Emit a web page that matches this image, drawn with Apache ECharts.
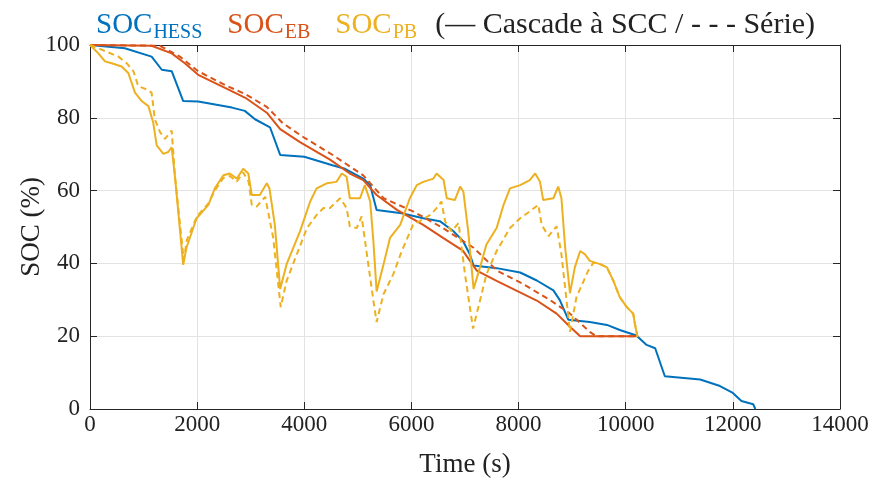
<!DOCTYPE html>
<html>
<head>
<meta charset="utf-8">
<script src="https://cdn.jsdelivr.net/npm/echarts@6/dist/echarts.min.js"></script>
<style>
  html, body { margin: 0; padding: 0; background: #fff; }
  #chart { width: 882px; height: 483px; }
</style>
</head>
<body>
<div id="chart"></div>
<script>
// axis ticks
const xTicks = [0, 2000, 4000, 6000, 8000, 10000, 12000, 14000]
const yTicks = [0, 20, 40, 60, 80, 100]

// SOC_HESS, cascade (solid)
const hessCascade = [[0, 100], [650, 99.1], [1150, 96.8], [1340, 93.2], [1525, 92.8], [1740, 84.6], [2020, 84.5],
  [2650, 82.8], [2890, 81.9], [3080, 79.6], [3360, 77.4], [3550, 69.8], [4000, 69.3], [4540, 66.9], [4760, 66.0],
  [5100, 63.3], [5230, 61.5], [5350, 54.7], [5820, 53.8], [6220, 52.4], [6530, 51.6], [6780, 48.9], [6960, 46.2],
  [7090, 42.5], [7160, 39.4], [7590, 38.7], [8030, 37.5], [8340, 35.3], [8650, 32.6], [8770, 29.9], [8930, 24.5],
  [9330, 23.9], [9650, 23.1], [9890, 21.7], [10200, 20.2], [10390, 17.6], [10550, 16.7], [10730, 9.0], [11390, 8.1],
  [11760, 6.3], [12000, 4.4], [12160, 2.2], [12380, 1.3], [12420, 0]]

// SOC_EB, cascade (solid) and series (dashed)
const ebCascade = [[0, 100], [1150, 99.8], [1525, 97.7], [1770, 95.0], [2020, 91.8], [2520, 88.2], [2900, 85.5],
  [3300, 81.4], [3550, 76.9], [3920, 73.3], [4480, 68.5], [4850, 64.7], [5100, 62.9], [5350, 58.8], [5730, 54.7],
  [6220, 50.6], [6590, 47.0], [6960, 43.5], [7220, 38.0], [7590, 35.2], [7960, 32.5], [8340, 29.8], [8710, 26.2],
  [8960, 22.6], [9150, 20.0], [10200, 20.0]]
const ebSerie = [[0, 100], [1300, 99.8], [1680, 96.8], [2020, 92.8], [2520, 89.0], [2900, 86.5], [3300, 83.0],
  [3600, 78.5], [3950, 75.0], [4540, 69.7], [5100, 64.2], [5480, 57.9], [6030, 54.3], [6590, 49.7], [7160, 44.3],
  [7600, 38.0], [8090, 34.3], [8590, 29.9], [8960, 26.2], [9330, 21.2], [9450, 20.0], [10200, 20.0]]

// SOC_PB, cascade (solid) and series (dashed)
const pbCascade = [[0, 100], [155, 97.7], [280, 95.5], [405, 95.0], [590, 94.1], [715, 92.3], [840, 86.9],
  [965, 84.6], [1090, 83.2], [1180, 78.7], [1245, 72.4], [1370, 70.1], [1460, 70.6], [1525, 71.9], [1590, 63.3],
  [1740, 39.6], [1800, 44.3], [1990, 52.4], [2210, 56.1], [2330, 60.6], [2490, 64.2], [2610, 64.7], [2740, 63.3],
  [2860, 66.0], [2955, 64.7], [3020, 58.8], [3170, 58.8], [3300, 62.0], [3350, 60.6], [3450, 50.6], [3550, 33.0],
  [3670, 39.8], [3920, 48.8], [4110, 57.0], [4230, 60.6], [4420, 62.0], [4600, 62.4], [4700, 64.7], [4790, 63.8],
  [4850, 57.9], [5040, 57.9], [5130, 61.5], [5230, 57.0], [5290, 46.1], [5350, 32.3], [5480, 39.8], [5600, 47.0],
  [5790, 50.6], [5970, 57.9], [6100, 61.5], [6220, 62.4], [6410, 63.3], [6470, 64.7], [6600, 62.9], [6660, 57.9],
  [6810, 57.4], [6910, 61.1], [6970, 59.7], [7060, 48.8], [7160, 33.0], [7280, 38.9], [7400, 45.2], [7590, 49.7],
  [7720, 56.1], [7840, 60.6], [8030, 61.5], [8210, 62.9], [8310, 64.7], [8400, 62.4], [8460, 57.4], [8650, 57.9],
  [8740, 61.1], [8800, 57.9], [8870, 44.3], [8960, 31.8], [9050, 38.9], [9150, 43.4], [9240, 42.5], [9330, 40.7],
  [9520, 39.8], [9650, 38.9], [9770, 35.2], [9890, 30.7], [10020, 28.0], [10140, 26.2], [10170, 23.5], [10220, 19.8]]
const pbSerie = [[0, 100], [155, 99.1], [530, 96.8], [685, 95.0], [810, 92.8], [900, 88.7], [1060, 87.8],
  [1150, 86.9], [1210, 79.6], [1310, 76.0], [1400, 74.2], [1525, 76.5], [1590, 63.3], [1750, 41.0], [1810, 46.5],
  [2000, 53.0], [2210, 56.5], [2330, 60.0], [2490, 63.5], [2610, 64.0], [2740, 62.5], [2860, 65.0], [2960, 62.5],
  [3020, 56.1], [3110, 55.6], [3270, 58.3], [3420, 47.0], [3560, 28.0], [3670, 35.2], [3860, 42.5], [4050, 49.7],
  [4230, 53.3], [4360, 55.2], [4480, 55.2], [4670, 57.9], [4790, 55.2], [4850, 50.2], [4980, 49.7], [5070, 52.9],
  [5160, 43.4], [5290, 29.8], [5350, 23.9], [5480, 31.6], [5660, 37.0], [5820, 43.4], [6030, 50.6], [6350, 53.3],
  [6470, 55.2], [6560, 57.0], [6630, 51.5], [6750, 48.8], [6880, 51.1], [7000, 37.0], [7150, 22.1], [7280, 29.8],
  [7400, 37.0], [7590, 43.4], [7840, 49.7], [8030, 52.4], [8210, 54.3], [8370, 56.1], [8430, 50.6], [8560, 47.5],
  [8710, 50.2], [8800, 42.5], [8960, 21.2], [9080, 30.7], [9300, 38.0], [9400, 40.2], [9520, 39.8], [9650, 38.9],
  [9770, 35.2], [9890, 30.7], [10020, 28.0], [10140, 26.2], [10170, 23.5], [10220, 19.8]]

const cBlue = '#0072BD'
const cRed = '#D95319'
const cYellow = '#EDB120'
const font = 'Liberation Serif'
const axisCol = '#262626'

const line = (name, data, color, dashed) => ({
  name: name,
  type: 'line',
  data: data,
  showSymbol: false,
  animation: false,
  lineStyle: { color: color, width: 2, type: dashed ? [6, 4] : 'solid' },
  itemStyle: { color: color }
})

// main text / subscript styles for the title line
const big = (color) => ({ color: color, fontFamily: font, fontWeight: 'normal', fontSize: 29, lineHeight: 36, verticalAlign: 'middle' })
const sub = (color, gap) => ({ color: color, fontFamily: font, fontWeight: 'normal', fontSize: 20, lineHeight: 36, verticalAlign: 'bottom', padding: [0, gap, 0, 1] })

const baseX = {
  type: 'value', min: 0, max: 14000, interval: 2000,
  axisLine: { show: true, onZero: false, lineStyle: { color: axisCol, width: 1 } },
  axisTick: { show: true, inside: true, length: 7, lineStyle: { color: axisCol } },
}
const baseY = {
  type: 'value', min: 0, max: 100, interval: 20,
  axisLine: { show: true, onZero: false, lineStyle: { color: axisCol, width: 1 } },
  axisTick: { show: true, inside: true, length: 7, lineStyle: { color: axisCol } },
}

const chart = echarts.init(document.getElementById('chart'))
chart.setOption({
  backgroundColor: '#fff',
  animation: false,
  title: {
    left: 91, top: 2,
    text: '{b|SOC}{bs|HESS}{r|SOC}{rs|EB}{y|SOC}{ys|PB}{k|(— Cascade à SCC / - - - Série)}',
    textStyle: {
      fontWeight: 'normal',
      rich: {
        b: big(cBlue), bs: sub(cBlue, 25),
        r: big(cRed), rs: sub(cRed, 25),
        y: big(cYellow), ys: sub(cYellow, 18),
        k: { color: '#222', fontFamily: font, fontWeight: 'normal', fontSize: 30, lineHeight: 36, verticalAlign: 'middle' }
      }
    }
  },
  grid: { left: 90, right: 42, top: 45, bottom: 70, containLabel: false },
  xAxis: [
    Object.assign({}, baseX, {
      position: 'bottom',
      name: 'Time (s)', nameLocation: 'middle', nameGap: 42,
      nameTextStyle: { fontFamily: font, fontSize: 27, color: '#222' },
      axisLabel: { fontFamily: font, fontSize: 23, color: '#222', margin: 4,
        formatter: v => xTicks.includes(v) ? String(v) : '' },
      splitLine: { show: true, lineStyle: { color: '#e3e3e3', width: 1 } }
    }),
    Object.assign({}, baseX, { position: 'top', axisLabel: { show: false }, splitLine: { show: false } })
  ],
  yAxis: [
    Object.assign({}, baseY, {
      position: 'left',
      name: 'SOC (%)', nameLocation: 'middle', nameGap: 45, nameRotate: 90, nameMoveOverlap: false,
      nameTextStyle: { fontFamily: font, fontSize: 27, color: '#222' },
      axisLabel: { fontFamily: font, fontSize: 23, color: '#222', margin: 10,
        formatter: v => yTicks.includes(v) ? String(v) : '' },
      splitLine: { show: true, lineStyle: { color: '#e3e3e3', width: 1 } }
    }),
    Object.assign({}, baseY, { position: 'right', axisLabel: { show: false }, splitLine: { show: false } })
  ],
  series: [
    line('SOC_HESS', hessCascade, cBlue, false),
    line('SOC_EB série', ebSerie, cRed, true),
    line('SOC_EB', ebCascade, cRed, false),
    line('SOC_PB série', pbSerie, cYellow, true),
    line('SOC_PB', pbCascade, cYellow, false)
  ]
})
</script>
</body>
</html>
